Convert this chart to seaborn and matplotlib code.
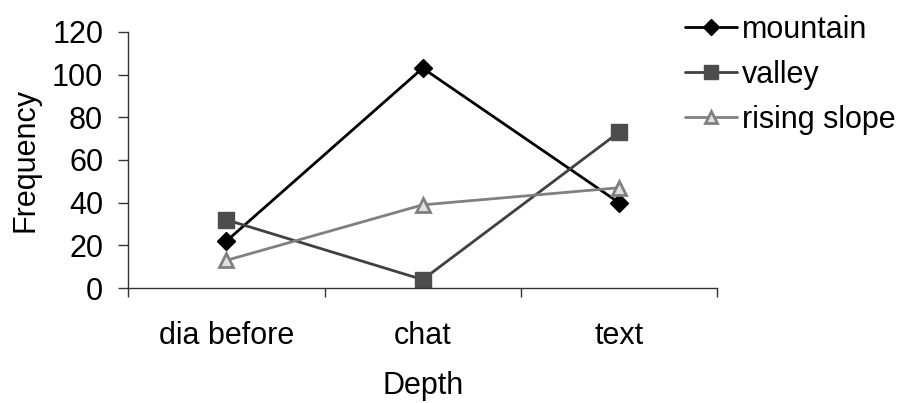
import matplotlib
matplotlib.use("Agg")
import matplotlib.pyplot as plt
import seaborn as sns
import pandas as pd
from matplotlib.ticker import FixedLocator
from matplotlib.lines import Line2D

categories = ["dia before", "chat", "text"]
mountain = [22, 103, 40]
valley = [32, 4, 73]
rising_slope = [13, 39, 47]
series_names = ["mountain", "valley", "rising slope"]

rows = []
for name, vals in zip(series_names, [mountain, valley, rising_slope]):
    for c, v in zip(categories, vals):
        rows.append({"Depth": c, "Frequency": v, "series": name})
df = pd.DataFrame(rows)

sns.set_style("white")
plt.rcParams["font.family"] = ["Liberation Sans", "DejaVu Sans"]
plt.rcParams["text.color"] = "black"
plt.rcParams["axes.labelcolor"] = "black"
plt.rcParams["xtick.color"] = "black"
plt.rcParams["ytick.color"] = "black"

FS = 22
fig = plt.figure(figsize=(9.09, 4.03), dpi=100)
ax = fig.add_axes([0.141, 0.285, 0.648, 0.636])

palette = {"mountain": "#000000", "valley": "#404040", "rising slope": "#808080"}
markers = {"mountain": "D", "valley": "s", "rising slope": "^"}
sns.lineplot(data=df, x="Depth", y="Frequency", hue="series", style="series",
             palette=palette, markers=markers, dashes=False, linewidth=2,
             markersize=10, ax=ax, legend=False, sort=False)

lines = ax.get_lines()
face = {"mountain": "#000000", "valley": "#4d4d4d", "rising slope": "#e0e0e0"}
edge = {"mountain": "#000000", "valley": "#4d4d4d", "rising slope": "#808080"}
sizes = {"mountain": 9, "valley": 11, "rising slope": 10}
for ln, name in zip(lines, series_names):
    ln.set_markerfacecolor(face[name])
    ln.set_markeredgecolor(edge[name])
    ln.set_markeredgewidth(2 if name == "rising slope" else 1)
    ln.set_markersize(sizes[name])

ax.set_xlim(-0.5, 2.5)
ax.set_ylim(0, 120)
ax.set_yticks([0, 20, 40, 60, 80, 100, 120])
ax.xaxis.set_minor_locator(FixedLocator([-0.5, 0.5, 1.5, 2.5]))
ax.tick_params(axis="x", which="major", length=0, pad=24, labelsize=FS)
ax.tick_params(axis="x", which="minor", length=6.5, width=1, color="#333333", bottom=True)
ax.tick_params(axis="y", length=7, width=1, color="#333333", left=True, pad=11, labelsize=FS)
for s in ["top", "right"]:
    ax.spines[s].set_visible(False)
for s in ["left", "bottom"]:
    ax.spines[s].set_color("#333333")
    ax.spines[s].set_linewidth(1)
ax.set_xlabel("Depth", fontsize=FS, labelpad=14)
ax.set_ylabel("Frequency", fontsize=FS, labelpad=8)

handles = [Line2D([], [], color=palette[n], marker=markers[n], markersize=sizes[n] - 1,
                  markerfacecolor=face[n], markeredgecolor=edge[n],
                  markeredgewidth=2 if n == "rising slope" else 1, linewidth=2)
           for n in series_names]
fig.legend(handles, series_names, loc="upper left", bbox_to_anchor=(0.7536, 0.963),
           frameon=False, fontsize=FS, handlelength=1.7, handletextpad=0.16,
           labelspacing=0.49, borderpad=0, borderaxespad=0)

fig.savefig("out.png", dpi=100)
